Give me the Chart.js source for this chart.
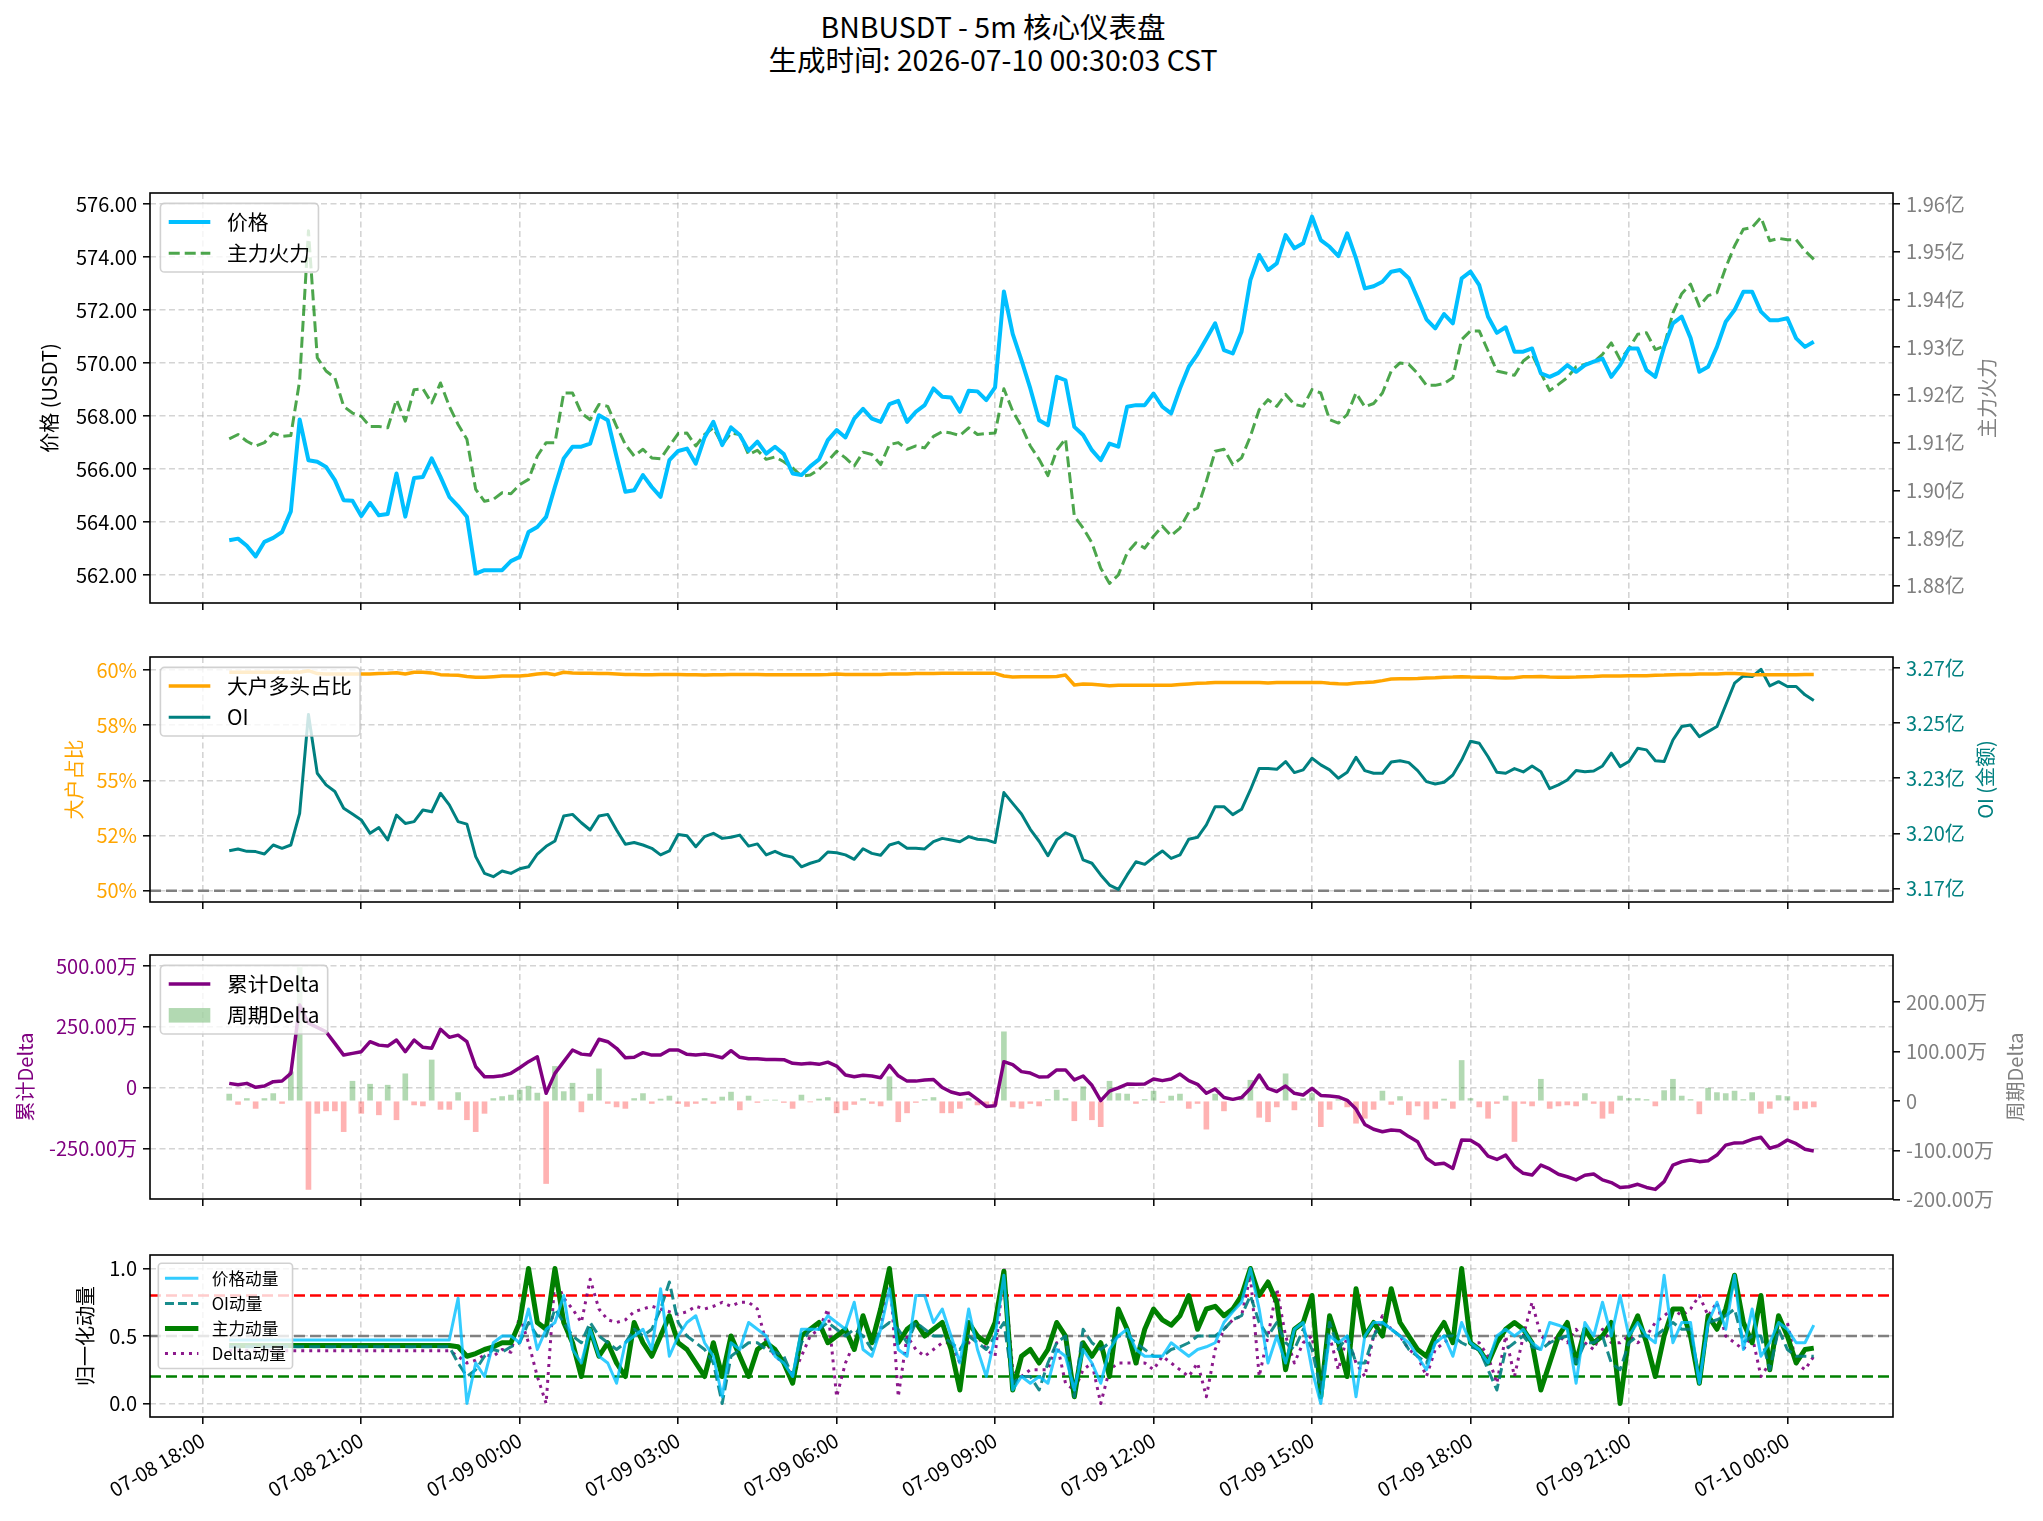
<!DOCTYPE html>
<html>
<head>
<meta charset="utf-8">
<script src="https://cdn.jsdelivr.net/npm/chart.js@4.4.1/dist/chart.umd.min.js"></script>
<style>
  body { margin: 0; background: #fff; width: 2043px; height: 1521px; position: relative; overflow: hidden; font-family: "Noto Sans CJK SC", "Noto Sans", sans-serif; }
  .title { position: absolute; left: 0; top: 9px; width: 1986px; text-align: center; font-size: 28.5px; line-height: 33px; color: #000; }
  .panel { position: absolute; left: 0; }
  canvas { display: block; }
</style>
</head>
<body>
<div class="title">BNBUSDT - 5m 核心仪表盘<br>生成时间: 2026-07-10 00:30:03 CST</div>
<div class="panel" style="top:150px"><canvas id="c1" width="2043" height="490"></canvas></div>
<div class="panel" style="top:640px"><canvas id="c2" width="2043" height="290"></canvas></div>
<div class="panel" style="top:930px"><canvas id="c3" width="2043" height="300"></canvas></div>
<div class="panel" style="top:1230px"><canvas id="c4" width="2043" height="291"></canvas></div>
<script>
// samples every 10 minutes, first one at 07-08 18:30 (hours counted from 07-08 18:00)
const startHour = 0.5;
const stepHour = 1 / 6;

const xTickHours = [0, 3, 6, 9, 12, 15, 18, 21, 24, 27, 30];
const xTickLabels = ["07-08 18:00", "07-08 21:00", "07-09 00:00", "07-09 03:00", "07-09 06:00",
  "07-09 09:00", "07-09 12:00", "07-09 15:00", "07-09 18:00", "07-09 21:00", "07-10 00:00"];

// panel 1
const price = [
  563.31,563.37,563.10,562.70,563.25,563.40,563.62,564.40,567.87,566.33,
  566.27,566.08,565.58,564.82,564.80,564.22,564.72,564.25,564.30,565.83,
  564.20,565.66,565.70,566.40,565.70,564.95,564.60,564.20,562.05,562.18,
  562.18,562.18,562.52,562.68,563.62,563.81,564.19,565.33,566.40,566.84,
  566.84,566.96,568.03,567.84,566.46,565.14,565.20,565.77,565.32,564.95,
  566.33,566.68,566.77,566.20,567.19,567.78,566.90,567.57,567.28,566.69,
  567.03,566.58,566.84,566.56,565.83,565.77,566.10,566.36,567.09,567.47,
  567.19,567.90,568.27,567.90,567.78,568.45,568.57,567.78,568.16,568.41,
  569.04,568.73,568.70,568.16,568.95,568.93,568.60,569.08,572.70,571.10,
  570.10,569.04,567.84,567.65,569.48,569.35,567.59,567.28,566.71,566.33,
  566.96,566.84,568.35,568.41,568.41,568.85,568.35,568.10,569.04,569.86,
  570.34,570.92,571.50,570.49,570.36,571.18,573.13,574.08,573.51,573.76,
  574.83,574.33,574.52,575.53,574.64,574.39,574.04,574.90,573.95,572.82,
  572.90,573.07,573.45,573.51,573.20,572.44,571.65,571.31,571.85,571.50,
  573.20,573.45,572.94,571.75,571.14,571.35,570.43,570.43,570.55,569.61,
  569.48,569.63,569.92,569.67,569.92,570.05,570.17,569.48,569.92,570.55,
  570.55,569.73,569.48,570.61,571.50,571.75,570.95,569.67,569.86,570.61,
  571.56,572.00,572.69,572.69,571.94,571.62,571.62,571.69,570.93,570.61,
  570.80
];
// 主力火力, in 亿
const mainForce = [
  1.9108,1.9117,1.9103,1.9093,1.9100,1.9120,1.9113,1.9115,1.9230,1.9544,
  1.9278,1.9250,1.9236,1.9176,1.9162,1.9155,1.9134,1.9134,1.9131,1.9190,
  1.9145,1.9211,1.9213,1.9183,1.9225,1.9176,1.9138,1.9107,1.9002,1.8977,
  1.8981,1.8995,1.8993,1.9012,1.9023,1.9072,1.9100,1.9100,1.9204,1.9204,
  1.9162,1.9148,1.9180,1.9176,1.9134,1.9096,1.9072,1.9086,1.9068,1.9066,
  1.9093,1.9119,1.9120,1.9093,1.9117,1.9131,1.9096,1.9120,1.9117,1.9075,
  1.9084,1.9065,1.9070,1.9060,1.9047,1.9030,1.9032,1.9044,1.9061,1.9082,
  1.9068,1.9051,1.9080,1.9075,1.9054,1.9096,1.9100,1.9086,1.9093,1.9089,
  1.9113,1.9123,1.9120,1.9115,1.9131,1.9117,1.9119,1.9120,1.9213,1.9166,
  1.9134,1.9093,1.9065,1.9031,1.9084,1.9108,1.8946,1.8921,1.8890,1.8837,
  1.8805,1.8823,1.8869,1.8890,1.8879,1.8904,1.8925,1.8905,1.8921,1.8954,
  1.8963,1.9019,1.9082,1.9086,1.9054,1.9068,1.9113,1.9169,1.9190,1.9176,
  1.9201,1.9180,1.9176,1.9211,1.9204,1.9148,1.9141,1.9159,1.9204,1.9175,
  1.9182,1.9204,1.9250,1.9267,1.9264,1.9245,1.9220,1.9220,1.9224,1.9236,
  1.9316,1.9334,1.9334,1.9292,1.9250,1.9246,1.9241,1.9271,1.9285,1.9246,
  1.9209,1.9222,1.9236,1.9259,1.9264,1.9269,1.9285,1.9309,1.9274,1.9297,
  1.9327,1.9330,1.9295,1.9302,1.9372,1.9412,1.9432,1.9386,1.9408,1.9414,
  1.9467,1.9512,1.9547,1.9551,1.9572,1.9523,1.9528,1.9525,1.9525,1.9502,
  1.9484
];
const priceTicks = [562, 564, 566, 568, 570, 572, 574, 576];
const priceTickLabels = ["562.00", "564.00", "566.00", "568.00", "570.00", "572.00", "574.00", "576.00"];
const forceTicks = [1.88, 1.89, 1.90, 1.91, 1.92, 1.93, 1.94, 1.95, 1.96];
const forceTickLabels = ["1.88亿", "1.89亿", "1.90亿", "1.91亿", "1.92亿", "1.93亿", "1.94亿", "1.95亿", "1.96亿"];

// panel 2, 大户多头占比 in %
const longRatio = [
  59.90,59.90,59.90,59.90,59.90,59.90,59.90,59.90,59.90,59.97,
  59.84,59.82,59.82,59.82,59.82,59.82,59.82,59.84,59.85,59.88,
  59.82,59.90,59.90,59.87,59.79,59.77,59.76,59.71,59.67,59.67,
  59.70,59.73,59.73,59.73,59.76,59.82,59.85,59.79,59.90,59.87,
  59.85,59.85,59.84,59.84,59.82,59.80,59.80,59.79,59.79,59.80,
  59.80,59.80,59.79,59.79,59.77,59.79,59.79,59.80,59.80,59.80,
  59.80,59.79,59.79,59.79,59.79,59.79,59.79,59.79,59.80,59.82,
  59.80,59.80,59.80,59.80,59.80,59.82,59.82,59.82,59.84,59.84,
  59.84,59.85,59.85,59.85,59.85,59.85,59.85,59.85,59.73,59.68,
  59.70,59.70,59.70,59.70,59.71,59.77,59.32,59.37,59.35,59.32,
  59.29,59.31,59.31,59.31,59.31,59.31,59.31,59.31,59.34,59.37,
  59.40,59.41,59.43,59.43,59.43,59.43,59.43,59.43,59.41,59.43,
  59.43,59.43,59.44,59.44,59.44,59.40,59.38,59.37,59.41,59.43,
  59.46,59.52,59.59,59.61,59.61,59.62,59.64,59.65,59.67,59.68,
  59.70,59.68,59.67,59.67,59.65,59.64,59.65,59.70,59.70,59.71,
  59.68,59.67,59.67,59.68,59.70,59.71,59.73,59.73,59.73,59.74,
  59.74,59.74,59.76,59.77,59.79,59.80,59.80,59.82,59.82,59.82,
  59.84,59.84,59.82,59.79,59.79,59.79,59.79,59.79,59.79,59.80,
  59.80
];
// OI, in 亿
const openInterest = [
  3.1921,3.1929,3.1918,3.1917,3.1906,3.1947,3.1932,3.1947,3.2091,3.2540,
  3.2273,3.2220,3.2190,3.2114,3.2088,3.2061,3.2000,3.2026,3.1970,3.2083,
  3.2045,3.2053,3.2106,3.2098,3.2182,3.2129,3.2053,3.2042,3.1894,3.1818,
  3.1803,3.1829,3.1818,3.1839,3.1848,3.1906,3.1941,3.1965,3.2079,3.2086,
  3.2048,3.2015,3.2079,3.2086,3.2015,3.1950,3.1958,3.1947,3.1932,3.1902,
  3.1920,3.1995,3.1989,3.1939,3.1985,3.2000,3.1977,3.1982,3.1992,3.1942,
  3.1952,3.1902,3.1918,3.1900,3.1891,3.1848,3.1864,3.1876,3.1915,3.1912,
  3.1902,3.1882,3.1930,3.1909,3.1900,3.1947,3.1959,3.1932,3.1932,3.1929,
  3.1962,3.1977,3.1970,3.1962,3.1985,3.1973,3.1970,3.1958,3.2185,3.2136,
  3.2088,3.2018,3.1964,3.1898,3.1970,3.2002,3.1985,3.1879,3.1864,3.1811,
  3.1765,3.1745,3.1811,3.1871,3.1859,3.1891,3.1920,3.1886,3.1902,3.1973,
  3.1982,3.2038,3.2121,3.2121,3.2085,3.2109,3.2197,3.2295,3.2295,3.2291,
  3.2326,3.2276,3.2288,3.2341,3.2311,3.2288,3.2250,3.2277,3.2345,3.2285,
  3.2273,3.2273,3.2324,3.2330,3.2321,3.2285,3.2235,3.2224,3.2232,3.2265,
  3.2333,3.2418,3.2409,3.2348,3.2277,3.2273,3.2294,3.2279,3.2306,3.2280,
  3.2203,3.2220,3.2242,3.2285,3.2280,3.2283,3.2306,3.2364,3.2303,3.2326,
  3.2386,3.2379,3.2330,3.2326,3.2424,3.2485,3.2492,3.2439,3.2462,3.2485,
  3.2583,3.2682,3.2715,3.2712,3.2745,3.2670,3.2689,3.2667,3.2667,3.2629,
  3.2603
];
const ratioTicks = [50, 52.5, 55, 57.5, 60];
const ratioTickLabels = ["50%", "52%", "55%", "58%", "60%"];
const oiTicks = [3.175, 3.2, 3.225, 3.25, 3.275];
const oiTickLabels = ["3.17亿", "3.20亿", "3.23亿", "3.25亿", "3.27亿"];

// panel 3, in 万
const cumDelta = [
  17.8,12.3,17.8,1.4,6.8,24.7,27.4,58.9,340,265,
  248,230,182,134,141,148,189,175,171,196,
  148,196,166,162,240,207,216,189,86,45,
  45,49,59,82,107,127,-23,59,107,155,
  138,134,199,189,162,123,125,144,134,134,
  155,155,137,134,138,132,123,152,125,119,
  119,116,116,115,100,97,100,96,105,89,
  52,45,51,48,41,92,49,27,27,32,
  34,1,-18,-27,-22,-48,-77,-74,107,95,
  66,60,44,45,73,73,32,48,10,-53,
  -14,-1,15,14,15,36,29,36,56,29,
  14,-23,-5,-40,-48,-40,-3,52,-3,-16,
  7,-23,-30,-3,-32,-34,-38,-52,-88,-151,
  -171,-181,-174,-177,-201,-222,-290,-315,-311,-332,
  -215,-216,-238,-281,-295,-277,-325,-352,-359,-318,
  -334,-356,-366,-379,-360,-355,-379,-390,-410,-407,
  -397,-410,-418,-386,-318,-304,-297,-304,-300,-277,
  -236,-227,-226,-212,-204,-249,-238,-215,-230,-253,
  -260
];
const periodDelta = [
  14,-7,5,-15,5,15,-5,59,270,-179,
  -25,-20,-20,-62,40,-25,34,-28,32,-38,
  55,-8,-10,83,-17,-17,17,-38,-62,-25,
  5,9,12,22,30,16,-167,70,19,36,
  -22,14,65,-5,-12,-15,5,15,-5,4,
  10,-5,-11,-5,5,-5,8,18,-18,10,
  -3,2,2,-3,-15,12,-2,4,7,-24,
  -18,-7,5,-5,-10,49,-42,-24,-3,3,
  7,-24,-24,-15,5,-8,-10,-8,140,-12,
  -15,-5,-10,3,22,5,-40,29,-38,-52,
  40,15,14,-5,3,20,-3,10,14,-15,
  -5,-57,14,-20,4,9,42,-33,-42,-12,
  55,-18,5,15,-52,-17,3,-12,-45,-35,
  -17,20,-7,9,-28,-10,-37,-15,4,-15,
  82,5,-12,-35,-5,10,-82,-5,-10,44,
  -15,-10,-8,-10,15,-5,-35,-25,10,5,
  5,3,-10,21,44,10,3,-26,26,17,
  15,20,3,17,-25,-15,11,9,-18,-15,
  -12
];
const cumTicks = [-250, 0, 250, 500];
const cumTickLabels = ["-250.00万", "0", "250.00万", "500.00万"];
const periodTicks = [-200, -100, 0, 100, 200];
const periodTickLabels = ["-200.00万", "-100.00万", "0", "100.00万", "200.00万"];

// panel 4
const priceMom = [
  0.47,0.47,0.47,0.47,0.47,0.47,0.47,0.47,0.47,0.47,
  0.47,0.47,0.47,0.47,0.47,0.47,0.47,0.47,0.47,0.47,
  0.47,0.47,0.47,0.47,0.47,0.47,0.78,0.00,0.30,0.20,
  0.45,0.50,0.50,0.45,0.70,0.40,0.55,0.60,0.80,0.40,
  0.30,0.55,0.35,0.30,0.15,0.45,0.50,0.55,0.40,0.85,
  0.35,0.50,0.60,0.65,0.45,0.35,0.05,0.45,0.40,0.60,
  0.55,0.50,0.35,0.30,0.20,0.55,0.55,0.55,0.65,0.60,
  0.55,0.75,0.40,0.35,0.55,0.85,0.40,0.35,0.80,0.80,
  0.60,0.70,0.50,0.30,0.70,0.40,0.20,0.50,0.95,0.10,
  0.20,0.15,0.20,0.15,0.40,0.35,0.10,0.40,0.30,0.15,
  0.40,0.50,0.55,0.40,0.35,0.35,0.35,0.45,0.40,0.35,
  0.40,0.42,0.45,0.60,0.68,0.75,1.00,0.70,0.30,0.50,
  0.30,0.55,0.60,0.25,0.00,0.50,0.45,0.50,0.05,0.50,
  0.60,0.60,0.55,0.50,0.45,0.35,0.25,0.45,0.50,0.35,
  0.60,0.45,0.40,0.30,0.50,0.55,0.50,0.55,0.45,0.40,
  0.60,0.58,0.55,0.15,0.60,0.50,0.75,0.50,0.80,0.50,
  0.60,0.50,0.45,0.95,0.45,0.60,0.60,0.15,0.60,0.75,
  0.55,0.95,0.40,0.70,0.35,0.45,0.60,0.55,0.45,0.45,
  0.58
];
const oiMom = [
  0.42,0.42,0.42,0.42,0.42,0.42,0.42,0.42,0.42,0.42,
  0.42,0.42,0.42,0.42,0.42,0.42,0.42,0.42,0.42,0.42,
  0.42,0.42,0.42,0.42,0.42,0.42,0.30,0.20,0.25,0.35,
  0.40,0.38,0.42,0.45,0.60,0.50,0.50,0.70,0.60,0.50,
  0.45,0.60,0.50,0.45,0.40,0.45,0.55,0.50,0.55,0.70,
  0.90,0.60,0.50,0.45,0.40,0.30,0.00,0.35,0.40,0.45,
  0.45,0.40,0.38,0.35,0.20,0.45,0.55,0.55,0.60,0.55,
  0.50,0.55,0.50,0.40,0.55,0.60,0.55,0.45,0.60,0.55,
  0.50,0.50,0.45,0.40,0.50,0.45,0.40,0.50,0.60,0.15,
  0.20,0.20,0.10,0.30,0.45,0.50,0.05,0.55,0.45,0.40,
  0.45,0.50,0.50,0.45,0.40,0.35,0.35,0.40,0.42,0.45,
  0.50,0.50,0.50,0.55,0.62,0.65,0.80,0.60,0.50,0.60,
  0.45,0.40,0.55,0.40,0.10,0.60,0.40,0.50,0.30,0.30,
  0.50,0.60,0.55,0.50,0.40,0.35,0.30,0.45,0.50,0.50,
  0.45,0.42,0.40,0.25,0.10,0.40,0.45,0.50,0.42,0.40,
  0.45,0.48,0.50,0.30,0.45,0.45,0.50,0.30,0.25,0.45,
  0.50,0.50,0.50,0.55,0.60,0.55,0.55,0.15,0.60,0.62,
  0.65,0.70,0.45,0.50,0.50,0.25,0.55,0.40,0.35,0.35,
  0.35
];
const mainMom = [
  0.43,0.43,0.43,0.43,0.43,0.43,0.43,0.43,0.43,0.43,
  0.43,0.43,0.43,0.43,0.43,0.43,0.43,0.43,0.43,0.43,
  0.43,0.43,0.43,0.43,0.43,0.43,0.42,0.35,0.37,0.40,
  0.42,0.45,0.45,0.60,1.00,0.60,0.55,1.00,0.60,0.45,
  0.20,0.55,0.35,0.45,0.30,0.20,0.60,0.45,0.35,0.50,
  0.65,0.45,0.40,0.30,0.20,0.45,0.20,0.50,0.35,0.20,
  0.40,0.45,0.40,0.30,0.15,0.50,0.55,0.60,0.45,0.50,
  0.55,0.40,0.65,0.45,0.70,1.00,0.45,0.55,0.60,0.50,
  0.55,0.60,0.40,0.10,0.60,0.50,0.45,0.60,0.98,0.10,
  0.35,0.40,0.30,0.40,0.60,0.50,0.05,0.45,0.35,0.45,
  0.20,0.70,0.55,0.30,0.55,0.70,0.62,0.58,0.65,0.80,
  0.55,0.70,0.72,0.65,0.70,0.80,1.00,0.80,0.90,0.75,
  0.25,0.55,0.60,0.80,0.05,0.65,0.45,0.20,0.85,0.50,
  0.60,0.50,0.85,0.60,0.50,0.40,0.35,0.50,0.60,0.45,
  1.00,0.45,0.40,0.30,0.45,0.55,0.60,0.55,0.45,0.10,
  0.30,0.50,0.60,0.30,0.55,0.45,0.50,0.60,0.00,0.50,
  0.65,0.45,0.20,0.50,0.70,0.70,0.50,0.15,0.65,0.55,
  0.70,0.95,0.60,0.45,0.80,0.25,0.65,0.50,0.30,0.40,
  0.41
];
const deltaMom = [
  0.39,0.39,0.39,0.39,0.39,0.39,0.39,0.39,0.39,0.39,
  0.39,0.39,0.39,0.39,0.39,0.39,0.39,0.39,0.39,0.39,
  0.39,0.39,0.39,0.39,0.39,0.39,0.35,0.30,0.32,0.36,
  0.35,0.40,0.38,0.65,0.45,0.20,0.00,0.93,0.78,0.70,
  0.60,0.92,0.70,0.62,0.60,0.62,0.68,0.70,0.72,0.70,
  0.68,0.66,0.68,0.72,0.70,0.72,0.75,0.72,0.75,0.75,
  0.70,0.45,0.35,0.30,0.20,0.35,0.50,0.55,0.70,0.05,
  0.30,0.45,0.60,0.50,0.55,1.00,0.05,0.50,0.40,0.35,
  0.40,0.45,0.45,0.30,0.45,0.50,0.40,0.35,1.00,0.25,
  0.20,0.25,0.25,0.25,0.45,0.15,0.10,0.25,0.30,0.00,
  0.25,0.30,0.30,0.30,0.30,0.25,0.35,0.30,0.25,0.20,
  0.30,0.05,0.40,0.55,0.62,0.65,0.95,0.20,0.50,0.85,
  0.50,0.30,0.45,0.50,0.10,0.50,0.25,0.50,0.30,0.20,
  0.50,0.65,0.55,0.50,0.40,0.35,0.20,0.40,0.45,0.50,
  1.00,0.45,0.45,0.35,0.15,0.50,0.20,0.50,0.75,0.50,
  0.45,0.50,0.45,0.55,0.45,0.40,0.55,0.45,0.45,0.50,
  0.45,0.50,0.60,0.65,0.70,0.65,0.70,0.80,0.65,0.75,
  0.50,0.45,0.40,0.50,0.20,0.30,0.55,0.60,0.30,0.25,
  0.35
];
const momTicks = [0, 0.5, 1.0];
const momTickLabels = ["0.0", "0.5", "1.0"];
const momLevels = [0.8, 0.5, 0.2];

const FONT = '"Noto Sans CJK SC", "Noto Sans", sans-serif';
const GRID = 'rgba(176,176,176,0.55)';
const hours = price.map((_, i) => startHour + i * stepHour);

// ---- small plugins: frame, legend box, rotated axis titles, reference lines ----
const frame = {
  id: 'frame',
  afterDraw(chart) {
    const a = chart.chartArea, ctx = chart.ctx;
    ctx.save();
    ctx.strokeStyle = '#000';
    ctx.lineWidth = 1.6;
    ctx.strokeRect(a.left, a.top, a.right - a.left, a.bottom - a.top);
    ctx.restore();
  }
};

const boxLegend = {
  id: 'boxLegend',
  afterDatasetsDraw(chart, args, o) {
    if (!o.items) return;
    const ctx = chart.ctx, a = chart.chartArea, fs = o.size, items = o.items;
    ctx.save();
    ctx.font = fs + 'px ' + FONT;
    const pad = 0.4 * fs, hl = 2 * fs, tp = 0.8 * fs, sp = 0.5 * fs;
    let tw = 0;
    for (let i = 0; i < items.length; i++) tw = Math.max(tw, ctx.measureText(items[i].label).width);
    const x0 = a.left + o.inset, y0 = a.top + o.inset;
    const w = 2 * pad + hl + tp + tw;
    const h = 2 * pad + items.length * fs + (items.length - 1) * sp;
    ctx.beginPath();
    ctx.roundRect(x0, y0, w, h, 0.2 * fs);
    ctx.fillStyle = 'rgba(255,255,255,0.8)';
    ctx.fill();
    ctx.strokeStyle = 'rgba(204,204,204,0.9)';
    ctx.lineWidth = 1.6;
    ctx.stroke();
    for (let i = 0; i < items.length; i++) {
      const it = items[i];
      const cy = y0 + pad + fs * (i + 0.5) + sp * i;
      const hx = x0 + pad;
      if (it.box) {
        ctx.fillStyle = it.color;
        ctx.fillRect(hx, cy - 0.35 * fs, hl, 0.7 * fs);
      } else {
        ctx.beginPath();
        ctx.setLineDash(it.dash ? Array.from(it.dash) : []);
        ctx.strokeStyle = it.color;
        ctx.lineWidth = it.width;
        ctx.moveTo(hx, cy);
        ctx.lineTo(hx + hl, cy);
        ctx.stroke();
        ctx.setLineDash([]);
      }
      ctx.fillStyle = '#000';
      ctx.textAlign = 'left';
      ctx.textBaseline = 'middle';
      ctx.fillText(it.label, hx + hl + tp, cy);
    }
    ctx.restore();
  }
};

const axisTitles = {
  id: 'axisTitles',
  afterDraw(chart, args, o) {
    if (!o.list) return;
    const ctx = chart.ctx, a = chart.chartArea, cy = (a.top + a.bottom) / 2;
    for (let i = 0; i < o.list.length; i++) {
      const t = o.list[i];
      ctx.save();
      ctx.translate(t.x, cy);
      ctx.rotate(-Math.PI / 2);
      ctx.font = '20px ' + FONT;
      ctx.fillStyle = t.color;
      ctx.textAlign = 'center';
      ctx.textBaseline = 'middle';
      ctx.fillText(t.text, 0, 0);
      ctx.restore();
    }
  }
};

const refLines = {
  id: 'refLines',
  beforeDatasetsDraw(chart, args, o) {
    if (!o.list) return;
    const ctx = chart.ctx, a = chart.chartArea;
    for (let i = 0; i < o.list.length; i++) {
      const l = o.list[i];
      const y = chart.scales[l.axis].getPixelForValue(l.value);
      ctx.save();
      ctx.beginPath();
      ctx.setLineDash(Array.from(l.dash));
      ctx.strokeStyle = l.color;
      ctx.lineWidth = l.width;
      ctx.moveTo(a.left, y);
      ctx.lineTo(a.right, y);
      ctx.stroke();
      ctx.restore();
    }
  }
};

// ---- scale / dataset helpers ----
function xAxis(height, withLabels) {
  return {
    type: 'linear', min: -1, max: 32, offset: false,
    afterBuildTicks: s => { s.ticks = xTickHours.map(v => ({ value: v })); },
    afterFit: s => { s.height = height; s.paddingLeft = 0; s.paddingRight = 0; },
    grid: { offset: false, color: GRID, lineWidth: 1.6, tickColor: '#000', tickLength: 7, tickWidth: 1.5 },
    border: { display: false, dash: [6, 3.5] },
    ticks: withLabels ? {
      autoSkip: false, maxRotation: 30, minRotation: 30, padding: 4,
      color: '#000', font: { family: FONT, size: 20 },
      callback: (v, i) => xTickLabels[i]
    } : { display: false }
  };
}

function yAxis(pos, min, max, ticks, labels, color, drawGrid) {
  return {
    type: 'linear', position: pos, min: min, max: max,
    afterBuildTicks: s => { s.ticks = ticks.map(v => ({ value: v })); },
    afterFit: s => { s.width = 150; s.paddingTop = 0; s.paddingBottom = 0; },
    grid: { drawOnChartArea: drawGrid, color: GRID, lineWidth: 1.6, tickColor: '#000', tickLength: 7, tickWidth: 1.5 },
    border: { display: false, dash: [6, 3.5] },
    ticks: { autoSkip: false, color: color, padding: 6, font: { family: FONT, size: 20 }, callback: (v, i) => labels[i] }
  };
}

function series(values, color, width, dash, axis) {
  return {
    type: 'line', yAxisID: axis,
    data: values.map((v, i) => ({ x: hours[i], y: v })),
    borderColor: color, borderWidth: width, borderDash: dash || [],
    borderJoinStyle: 'round', pointRadius: 0, fill: false, tension: 0, order: 1
  };
}

function baseOptions(padTop, padRight) {
  return {
    responsive: false, animation: false, devicePixelRatio: 1,
    layout: { padding: { top: padTop, right: padRight, left: 0, bottom: 0 } },
    events: []
  };
}

const plugins = [refLines, boxLegend, axisTitles, frame];

// ---- panel 1: price and 主力火力 ----
new Chart(document.getElementById('c1'), {
  type: 'line',
  data: { datasets: [
    series(price, '#00bfff', 4, null, 'y'),
    series(mainForce, 'rgba(0,128,0,0.7)', 3, [11, 5], 'y1')
  ] },
  options: Object.assign(baseOptions(43, 0), {
    scales: {
      x: xAxis(37, false),
      y: yAxis('left', 560.94, 576.42, priceTicks, priceTickLabels, '#000', true),
      y1: yAxis('right', 1.8764, 1.9623, forceTicks, forceTickLabels, '#808080', false)
    },
    plugins: {
      legend: { display: false }, tooltip: { enabled: false },
      boxLegend: { size: 20.8, inset: 10.4, items: [
        { label: '价格', color: '#00bfff', width: 4 },
        { label: '主力火力', color: 'rgba(0,128,0,0.7)', width: 3, dash: [11, 5] }
      ] },
      axisTitles: { list: [
        { text: '价格 (USDT)', x: 49, color: '#000' },
        { text: '主力火力', x: 1987, color: '#808080' }
      ] }
    }
  }),
  plugins: plugins
});

// ---- panel 2: 大户多头占比 and OI ----
new Chart(document.getElementById('c2'), {
  type: 'line',
  data: { datasets: [
    series(longRatio, '#ffa500', 3.5, null, 'y'),
    series(openInterest, '#008080', 3, null, 'y1')
  ] },
  options: Object.assign(baseOptions(17, 0), {
    scales: {
      x: xAxis(28, false),
      y: yAxis('left', 49.49, 60.59, ratioTicks, ratioTickLabels, '#ffa500', true),
      y1: yAxis('right', 3.1688, 3.2801, oiTicks, oiTickLabels, '#008080', false)
    },
    plugins: {
      legend: { display: false }, tooltip: { enabled: false },
      refLines: { list: [{ axis: 'y', value: 50, color: '#808080', width: 2.4, dash: [11, 5] }] },
      boxLegend: { size: 20.8, inset: 10.4, items: [
        { label: '大户多头占比', color: '#ffa500', width: 3.5 },
        { label: 'OI', color: '#008080', width: 3 }
      ] },
      axisTitles: { list: [
        { text: '大户占比', x: 74, color: '#ffa500' },
        { text: 'OI (金额)', x: 1985, color: '#008080' }
      ] }
    }
  }),
  plugins: plugins
});

// ---- panel 3: 累计Delta and 周期Delta ----
const barData = periodDelta.map((v, i) => ({ x: hours[i], y: v }));
new Chart(document.getElementById('c3'), {
  type: 'line',
  data: { datasets: [
    series(cumDelta, '#800080', 3.5, null, 'y'),
    {
      type: 'bar', yAxisID: 'y1', data: barData, order: 2, barThickness: 5,
      backgroundColor: periodDelta.map(v => v >= 0 ? 'rgba(0,128,0,0.3)' : 'rgba(255,0,0,0.3)'),
      borderWidth: 0
    }
  ] },
  options: Object.assign(baseOptions(25, 0), {
    scales: {
      x: xAxis(31, false),
      y: yAxis('left', -457.5, 545.4, cumTicks, cumTickLabels, '#800080', true),
      y1: yAxis('right', -198.3, 295.4, periodTicks, periodTickLabels, '#808080', false)
    },
    plugins: {
      legend: { display: false }, tooltip: { enabled: false },
      boxLegend: { size: 20.8, inset: 10.4, items: [
        { label: '累计Delta', color: '#800080', width: 3.5 },
        { label: '周期Delta', color: 'rgba(0,128,0,0.3)', box: true }
      ] },
      axisTitles: { list: [
        { text: '累计Delta', x: 25, color: '#800080' },
        { text: '周期Delta', x: 2015, color: '#808080' }
      ] }
    }
  }),
  plugins: plugins
});

// ---- panel 4: normalised momentum ----
new Chart(document.getElementById('c4'), {
  type: 'line',
  data: { datasets: [
    series(priceMom, 'rgba(0,191,255,0.8)', 3, null, 'y'),
    series(oiMom, 'rgba(0,128,128,0.9)', 3, [11, 5], 'y'),
    series(mainMom, '#008000', 5, null, 'y'),
    series(deltaMom, 'rgba(128,0,128,0.9)', 3, [3, 5], 'y')
  ] },
  options: Object.assign(baseOptions(25, 150), {
    scales: {
      x: xAxis(104, true),
      y: yAxis('left', -0.1, 1.1, momTicks, momTickLabels, '#000', true)
    },
    plugins: {
      legend: { display: false }, tooltip: { enabled: false },
      refLines: { list: [
        { axis: 'y', value: momLevels[0], color: '#ff0000', width: 2.4, dash: [11, 5] },
        { axis: 'y', value: momLevels[1], color: '#808080', width: 2.4, dash: [11, 5] },
        { axis: 'y', value: momLevels[2], color: '#008000', width: 2.4, dash: [11, 5] }
      ] },
      boxLegend: { size: 16.7, inset: 8.3, items: [
        { label: '价格动量', color: 'rgba(0,191,255,0.8)', width: 3 },
        { label: 'OI动量', color: 'rgba(0,128,128,0.9)', width: 3, dash: [9, 4] },
        { label: '主力动量', color: '#008000', width: 5 },
        { label: 'Delta动量', color: 'rgba(128,0,128,0.9)', width: 3, dash: [3, 5] }
      ] },
      axisTitles: { list: [{ text: '归一化动量', x: 85, color: '#000' }] }
    }
  }),
  plugins: plugins
});
</script>
</body>
</html>
